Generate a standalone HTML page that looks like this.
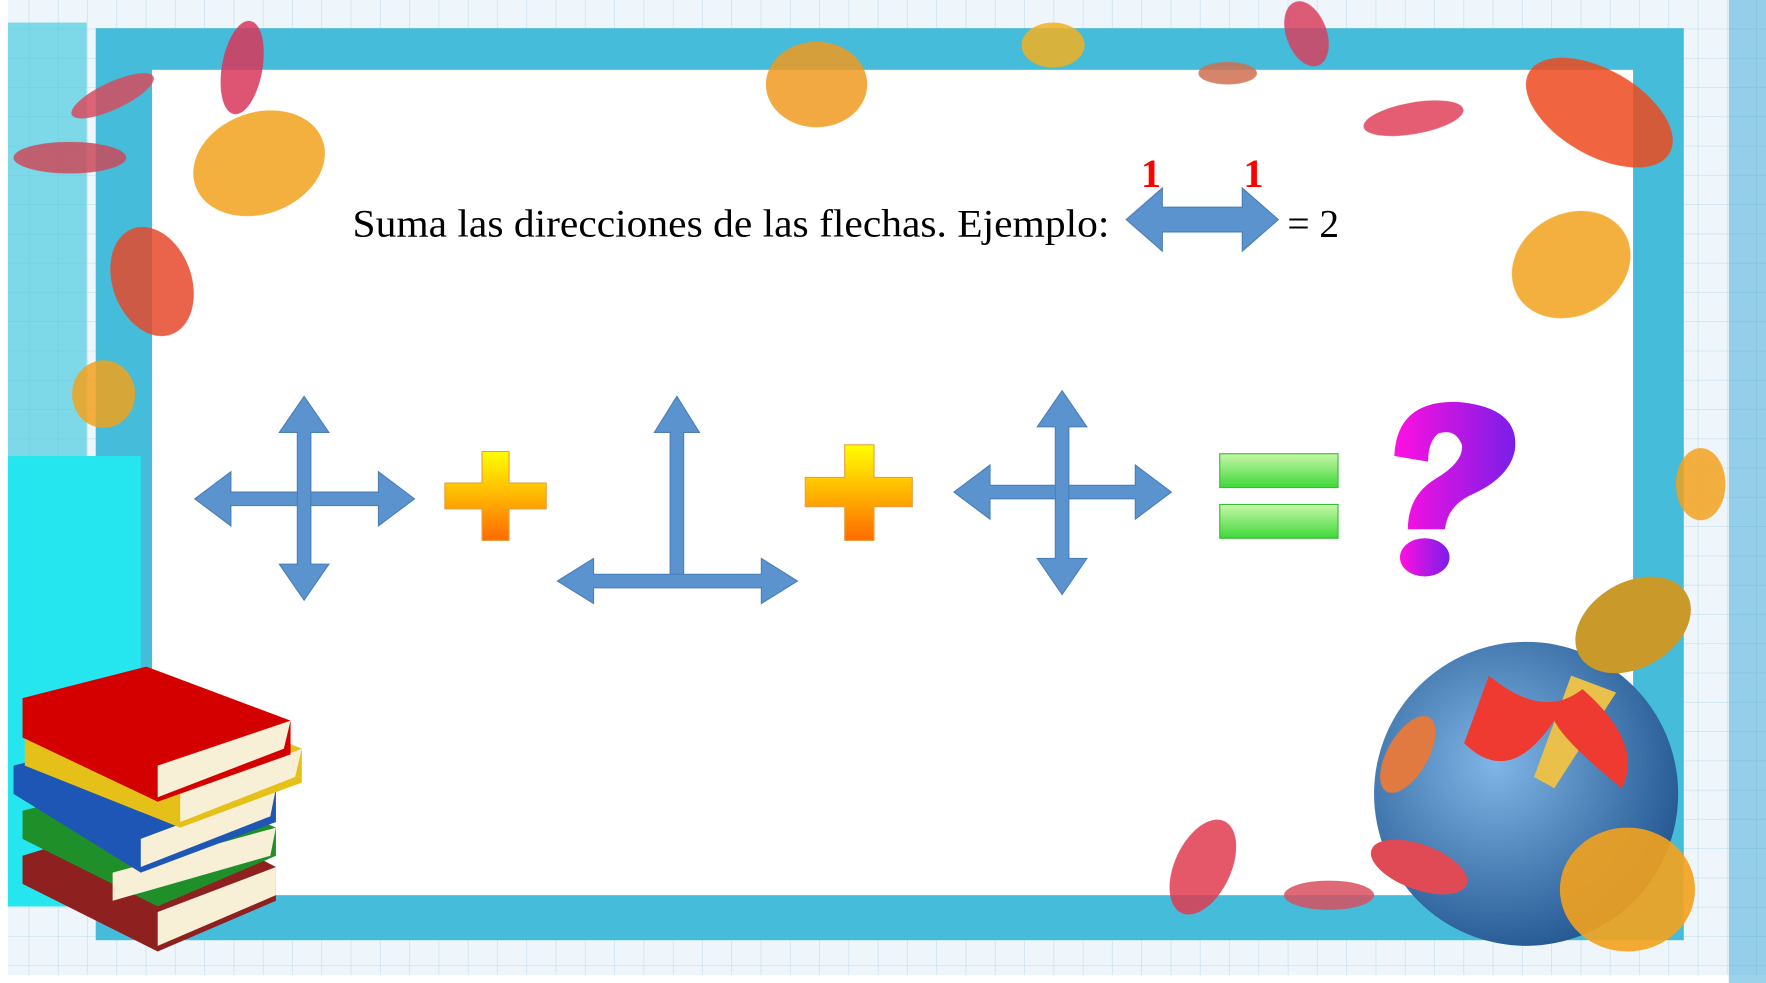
<!DOCTYPE html>
<html><head><meta charset="utf-8"><style>
html,body{margin:0;padding:0;background:#fff;}
svg{display:block}
</style></head><body>
<svg id="s" width="1766" height="983" viewBox="0 0 1568 873" preserveAspectRatio="none" xmlns="http://www.w3.org/2000/svg">
<defs>
<pattern id="grid" width="26" height="26" patternUnits="userSpaceOnUse"><rect width="26" height="26" fill="#eef6fb"/><path d="M26 0V26H0" fill="none" stroke="#c9dfee" stroke-width="1.2"/></pattern>
<linearGradient id="pg" x1="0" y1="0" x2="0" y2="1"><stop offset="0" stop-color="#ffff00"/><stop offset="1" stop-color="#ff6a00"/></linearGradient>
<linearGradient id="eg" x1="0" y1="0" x2="0" y2="1"><stop offset="0" stop-color="#c8f7a8"/><stop offset="1" stop-color="#3ed83a"/></linearGradient>
<linearGradient id="qg" x1="0" y1="0" x2="1" y2="0"><stop offset="0" stop-color="#ff10e0"/><stop offset="1" stop-color="#7a1ee8"/></linearGradient>
<radialGradient id="gl" cx="0.4" cy="0.4" r="0.7"><stop offset="0" stop-color="#7fb6e6"/><stop offset="1" stop-color="#1c4f8a"/></radialGradient>
</defs>
<rect x="0" y="0" width="1568" height="873" fill="url(#grid)"/>
<rect x="0" y="0" width="7" height="873" fill="#fff"/>
<rect x="0" y="866" width="1568" height="7" fill="#fff"/>
<rect x="1535" y="0" width="33" height="873" fill="#3aa6d6" opacity="0.5"/>
<rect x="85" y="25" width="1410" height="810" fill="#45bcd9"/>
<rect x="135" y="62" width="1315" height="733" fill="#ffffff"/>
<rect x="7" y="405" width="118" height="400" fill="#25e6ee"/>
<rect x="7" y="20" width="70" height="385" fill="#32c6dc" opacity="0.6"/>
<g opacity="0.85">
<ellipse cx="230" cy="145" rx="60" ry="45" fill="#f3a21d" transform="rotate(-20 230 145)"/>
<ellipse cx="215" cy="60" rx="18" ry="42" fill="#d8365a" transform="rotate(10 215 60)"/>
<ellipse cx="100" cy="85" rx="40" ry="12" fill="#d74b5e" transform="rotate(-25 100 85)"/>
<ellipse cx="62" cy="140" rx="50" ry="14" fill="#cc4a5a"/>
<ellipse cx="135" cy="250" rx="35" ry="50" fill="#e5482a" transform="rotate(-20 135 250)"/>
<ellipse cx="92" cy="350" rx="28" ry="30" fill="#f3a21d"/>
<ellipse cx="725" cy="75" rx="45" ry="38" fill="#f09a20"/>
<ellipse cx="935" cy="40" rx="28" ry="20" fill="#f3b020"/>
<ellipse cx="1160" cy="30" rx="18" ry="30" fill="#d84060" transform="rotate(-20 1160 30)"/>
<ellipse cx="1090" cy="65" rx="26" ry="10" fill="#d07050"/>
<ellipse cx="1255" cy="105" rx="45" ry="14" fill="#e0405a" transform="rotate(-10 1255 105)"/>
<ellipse cx="1420" cy="100" rx="72" ry="38" fill="#ee4a1e" transform="rotate(30 1420 100)"/>
<ellipse cx="1395" cy="235" rx="55" ry="45" fill="#f3a21d" transform="rotate(-30 1395 235)"/>
<ellipse cx="1510" cy="430" rx="22" ry="32" fill="#f3a21d"/>
<ellipse cx="1068" cy="770" rx="25" ry="45" fill="#e03a50" transform="rotate(25 1068 770)"/>
<ellipse cx="1180" cy="795" rx="40" ry="13" fill="#d85060"/>
</g>
<g>
<circle cx="1355" cy="705" r="135" fill="url(#gl)"/>
<ellipse cx="1450" cy="555" rx="55" ry="38" fill="#c99a2a" transform="rotate(-30 1450 555)"/>
<path d="M1395 600 L1435 615 L1380 700 L1362 690Z" fill="#e8c04a"/>
<path d="M1322 600 Q1370 640 1405 612 Q1460 660 1440 700 Q1390 660 1380 640 Q1340 700 1300 660Z" fill="#ee3a30"/>
<ellipse cx="1445" cy="790" rx="60" ry="55" fill="#f3a21d" opacity="0.9"/>
<ellipse cx="1250" cy="670" rx="18" ry="38" fill="#e07a40" transform="rotate(30 1250 670)"/>
<ellipse cx="1260" cy="770" rx="45" ry="20" fill="#e04a55" transform="rotate(20 1260 770)"/>
</g>
<g>
<path d="M20 760 L150 720 L245 770 L245 800 L140 845 L20 785Z" fill="#8e2020"/>
<path d="M140 810 L245 770 L245 795 L140 840Z" fill="#f7efd6"/>
<path d="M20 720 L140 690 L245 735 L245 760 L140 805 L20 745Z" fill="#1f8f2a"/>
<path d="M100 775 L245 735 L240 760 L100 800Z" fill="#f7efd6"/>
<path d="M12 680 L130 650 L245 700 L245 730 L125 775 L12 705Z" fill="#1d56b5"/>
<path d="M125 745 L245 700 L240 725 L125 770Z" fill="#f7efd6"/>
<path d="M22 650 L150 615 L268 665 L268 695 L160 735 L22 680Z" fill="#e5c018"/>
<path d="M160 705 L268 665 L262 690 L160 730Z" fill="#f7efd6"/>
<path d="M20 620 L130 592 L258 640 L258 670 L140 712 L20 655Z" fill="#d40000"/>
<path d="M140 680 L258 640 L252 665 L140 708Z" fill="#f7efd6"/>
</g>
<text x="313" y="210" textLength="672" lengthAdjust="spacingAndGlyphs" font-family="Liberation Serif, serif" font-size="35" fill="#000">Suma las direcciones de las flechas. Ejemplo:</text>
<text x="1143" y="210" font-family="Liberation Serif, serif" font-size="35" fill="#000">= 2</text>
<text x="1013" y="166" font-family="Liberation Serif, serif" font-size="36" font-weight="bold" fill="#ff0000">1</text>
<text x="1104" y="166" font-family="Liberation Serif, serif" font-size="36" font-weight="bold" fill="#ff0000">1</text>
<g id="arrows"></g>
<g fill="url(#pg)" stroke="#e8a040" stroke-width="1">
<path d="M428 401H452V429H485V452H452V480H428V452H395V429H428Z"/>
</g>
<g fill="url(#pg)" stroke="#e8a040" stroke-width="1">
<path d="M750 395H776V424H810V450H776V480H750V450H715V424H750Z"/>
</g>
<rect x="1083" y="403" width="105" height="30" fill="url(#eg)" stroke="#3ab83a"/>
<rect x="1083" y="448" width="105" height="30" fill="url(#eg)" stroke="#3ab83a"/>
<g fill="url(#qg)">
<path d="M1238 405 Q1240 355 1295 357 Q1350 362 1345 400 Q1340 425 1305 440 Q1285 450 1283 470 L1250 470 Q1250 440 1275 425 Q1300 410 1298 395 Q1292 380 1277 385 Q1268 392 1268 410 Z"/>
<ellipse cx="1265" cy="495" rx="22" ry="17"/>
</g>
</svg>
<script>
const g=document.getElementById('arrows');
const C='#5b93cf';
function hArrow(x1,x2,y,t,L,H){return `M${x1},${y} L${x1+L},${y-H} L${x1+L},${y-t} L${x2-L},${y-t} L${x2-L},${y-H} L${x2},${y} L${x2-L},${y+H} L${x2-L},${y+t} L${x1+L},${y+t} L${x1+L},${y+H} Z`;}
function vArrow(y1,y2,x,t,L,H){return `M${x},${y1} L${x+H},${y1+L} L${x+t},${y1+L} L${x+t},${y2-L} L${x+H},${y2-L} L${x},${y2} L${x-H},${y2-L} L${x-t},${y2-L} L${x-t},${y1+L} L${x-H},${y1+L} Z`;}
function upArrow(y1,y2,x,t,L,H){return `M${x},${y1} L${x+H},${y1+L} L${x+t},${y1+L} L${x+t},${y2} L${x-t},${y2} L${x-t},${y1+L} L${x-H},${y1+L} Z`;}
function add(d,name){const p=document.createElementNS('http://www.w3.org/2000/svg','path');p.setAttribute('d',d);p.setAttribute('fill',C);p.setAttribute('stroke','#4a7fb8');p.setAttribute('stroke-width','1');


g.appendChild(p);}
add(hArrow(1000,1135,195,11,32,28),'example-double-arrow');
add(hArrow(173,368,443,6,32,24),'arrow1-horizontal');
add(vArrow(352,533,270,6,32,22),'arrow1-vertical');
add(upArrow(352,516,601,6,32,20),'arrow2-vertical');
add(hArrow(495,708,516,6,32,20),'arrow2-horizontal');
add(hArrow(847,1040,437,6,32,24),'arrow3-horizontal');
add(vArrow(347,528,943,6,32,22),'arrow3-vertical');
</script>
</body></html>
